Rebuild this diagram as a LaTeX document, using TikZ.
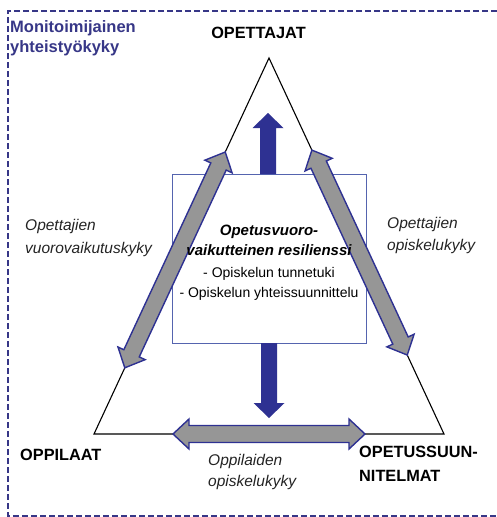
\documentclass[tikz,border=0pt]{standalone}
\usepackage{fontspec}
\setmainfont{Liberation Sans}
\usetikzlibrary{calc}
\definecolor{navy}{RGB}{46,49,146}
\definecolor{framecol}{RGB}{55,55,135}
\definecolor{boxcol}{RGB}{85,100,175}
\definecolor{arrgray}{RGB}{150,150,150}
\definecolor{labcol}{RGB}{35,35,35}
\newcommand\grayDoubleArrow[2]{%
  \coordinate (p1) at ($(#1)!16pt!(#2)$);
  \coordinate (p2) at ($(#2)!16pt!(#1)$);
  \draw[grayarrow] (#1) -- ($(p1)!15pt!90:(#2)$) -- ($(p1)!8.5pt!90:(#2)$)
    -- ($(p2)!8.5pt!-90:(#1)$) -- ($(p2)!15pt!-90:(#1)$) -- (#2)
    -- ($(p2)!15pt!90:(#1)$) -- ($(p2)!8.5pt!90:(#1)$)
    -- ($(p1)!8.5pt!-90:(#2)$) -- ($(p1)!15pt!-90:(#2)$) -- cycle;}
\newcommand\blueBlockArrow[2]{%
  \coordinate (q) at ($(#2)!15pt!(#1)$);
  \fill[bluearrow] ($(#1)!8pt!90:(#2)$) -- ($(q)!8pt!-90:(#1)$) -- ($(q)!15.5pt!-90:(#1)$)
    -- (#2) -- ($(q)!15.5pt!90:(#1)$) -- ($(q)!8pt!90:(#1)$) -- ($(#1)!8pt!-90:(#2)$) -- cycle;}
\tikzset{
  grayarrow/.style={draw=navy, fill=arrgray, line width=1.4pt, line join=miter},
  bluearrow/.style={fill=navy},
  framebox/.style={draw=framecol, line width=1.4pt, dashed, dash pattern=on 6pt off 3pt},
  triline/.style={draw=black, line width=1.1pt},
  centerbox/.style={draw=boxcol, line width=0.8pt},
  caplabel/.style={font=\fontsize{16.3}{19}\selectfont\bfseries, inner sep=0, text=black},
  titlelabel/.style={font=\fontsize{16.5}{19}\selectfont\bfseries, inner sep=0, text=framecol, anchor=base west},
  itlabel/.style={font=\fontsize{15.5}{18}\selectfont\itshape, inner sep=0, text=labcol, anchor=base west},
  boxhead/.style={font=\fontsize{15}{18}\selectfont\bfseries\itshape, inner sep=0, anchor=base},
  boxitem/.style={font=\fontsize{14}{17}\selectfont, inner sep=0, anchor=base}
}
\begin{document}
\begin{tikzpicture}[x=1pt,y=-1pt]
\useasboundingbox (0,0) rectangle (497,517);
% dashed frame (open at right)
\draw[framebox] (497,11) -- (8,11) -- (8,516) -- (497,516);
% triangle
\coordinate (T) at (269,58);
\coordinate (L) at (94,434);
\coordinate (R) at (444,434);
\draw[triline] (T) -- (L) -- (R) -- cycle;
% center box
\node[centerbox, minimum width=194pt, minimum height=169pt, inner sep=0, anchor=north west] (box) at (172,174) {};
% blue arrows
\coordinate (ua) at (268,174);
\coordinate (ub) at (268,113);
\blueBlockArrow{ua}{ub}
\coordinate (da) at (269,343);
\coordinate (db) at (269,418);
\blueBlockArrow{da}{db}
% gray double arrows along triangle edges
\coordinate (la) at ($(T)!0.25!(L)$);
\coordinate (lb) at ($(T)!0.824!(L)$);
\grayDoubleArrow{la}{lb}
\coordinate (ra) at ($(T)!0.245!(R)$);
\coordinate (rb) at ($(T)!0.79!(R)$);
\grayDoubleArrow{ra}{rb}
\coordinate (ba) at (173,434);
\coordinate (bb) at (365,434);
\grayDoubleArrow{ba}{bb}
% labels
\node[caplabel, anchor=base] (opettajat) at (258.5,38) {OPETTAJAT};
\node[caplabel, anchor=base west] (oppilaat) at (20,460) {OPPILAAT};
\node[caplabel, anchor=base west] (ops1) at (359,457) {OPETUSSUUN-};
\node[caplabel, anchor=base west] (ops2) at (359,481) {NITELMAT};
\node[titlelabel] (mon1) at (10,32) {Monitoimijainen};
\node[titlelabel] (mon2) at (10,52) {yhteistyökyky};
\node[itlabel] (ov1) at (25,230) {Opettajien};
\node[itlabel] (ov2) at (25,253) {vuorovaikutuskyky};
\node[itlabel] (oo1) at (387,228) {Opettajien};
\node[itlabel] (oo2) at (387,250) {opiskelukyky};
\node[itlabel] (po1) at (208,465) {Oppilaiden};
\node[itlabel] (po2) at (208,486) {opiskelukyky};
\node[boxhead] (bh1) at (269,235) {Opetusvuoro-};
\node[boxhead] (bh2) at (269,255) {vaikutteinen resilienssi};
\node[boxitem] (bi1) at (269,277) {- Opiskelun tunnetuki};
\node[boxitem] (bi2) at (269,297) {- Opiskelun yhteissuunnittelu};
\end{tikzpicture}
\end{document}
